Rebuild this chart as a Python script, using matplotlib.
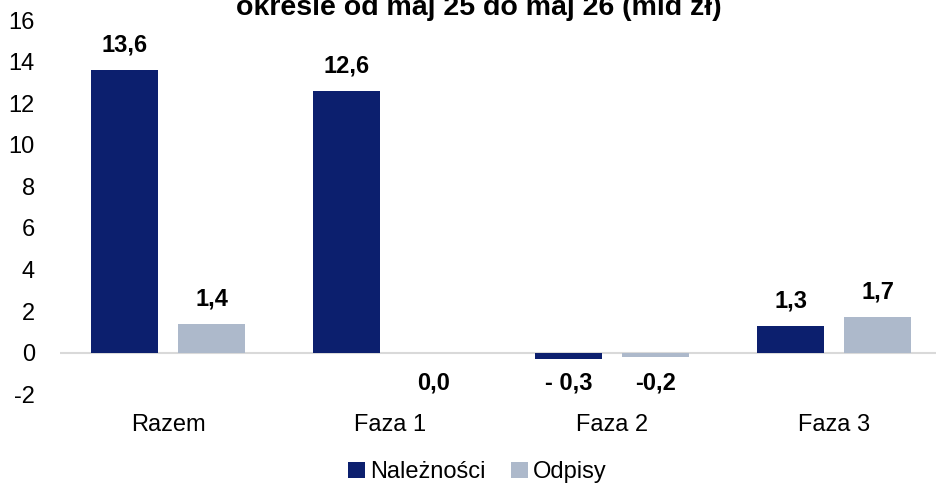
import numpy as np
import matplotlib
matplotlib.use("Agg")
import matplotlib.pyplot as plt

plt.rcParams["font.family"] = ["Liberation Sans", "DejaVu Sans"]

# === Dane ===
categories = ["Razem", "Faza 1", "Faza 2", "Faza 3"]
naleznosci = [13.6, 12.6, -0.3, 1.3]
odpisy = [1.4, 0.0, -0.2, 1.7]
naleznosci_labels = ["13,6", "12,6", "- 0,3", "1,3"]
odpisy_labels = ["1,4", "0,0", "-0,2", "1,7"]
yticks = [-2, 0, 2, 4, 6, 8, 10, 12, 14, 16]

NAVY = "#0c1f6e"
GRAY = "#adb9cb"

fig = plt.figure(figsize=(9.36, 4.83), dpi=100)
ax = fig.add_axes([0.064, 0.184, 0.936, 0.774])

x = np.arange(len(categories))
w = 0.302
off = 0.196

b1 = ax.bar(x - off, naleznosci, w, color=NAVY, label="Należności")
b2 = ax.bar(x + off, odpisy, w, color=GRAY, label="Odpisy")

ax.axhline(0, color="#d9d9d9", lw=1.5, zorder=0)

# podpisy wartości
for xs, vals, labs in [(x - off, naleznosci, naleznosci_labels),
                       (x + off, odpisy, odpisy_labels)]:
    for xi, v, lab in zip(xs, vals, labs):
        y = v + 1.2 if v > 0 else -1.45
        ax.text(xi, y, lab, ha="center", va="center",
                fontsize=17, fontweight="bold", color="black")

ax.set_xlim(-0.488, 3.458)
ax.set_ylim(-2, 16)
ax.set_yticks(yticks)
ax.set_yticklabels([str(t) for t in yticks], fontsize=17)
ax.set_xticks(x)
ax.set_xticklabels(categories, fontsize=17)
ax.tick_params(length=0)
ax.tick_params(axis="x", pad=14)
ax.tick_params(axis="y", pad=18)
for s in ax.spines.values():
    s.set_visible(False)

# tytuł (górna linia ucięta jak w oryginale)
fig.text(0.512, 1 - 15 / 483, "okresie od maj 25 do maj 26 (mld zł)",
         ha="center", va="baseline", fontsize=20.5, fontweight="bold")

fig.legend(handles=[b1, b2], loc="lower center", bbox_to_anchor=(0.51, -0.045),
           ncol=2, frameon=False, fontsize=17, handlelength=0.7,
           handleheight=0.7, handletextpad=0.2, columnspacing=1.1)

fig.savefig("out.png", dpi=100)
